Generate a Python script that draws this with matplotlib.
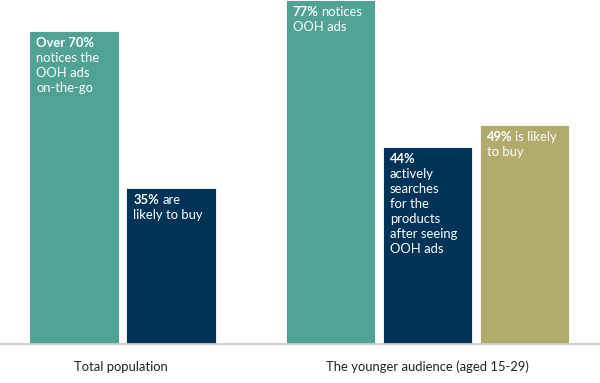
import matplotlib
matplotlib.use("Agg")
import matplotlib.pyplot as plt

plt.rcParams["font.family"] = ["Lato", "DejaVu Sans"]

# -----------------------------------------------------------------------------
# Data
# -----------------------------------------------------------------------------
groups = ["Total population", "The younger audience (aged 15-29)"]
bar_pos = [0.0, 1.0, 2.64, 3.64, 4.64]
values = [70, 35, 77, 44, 49]
bold_parts = ["Over 70%", "35%", "77%", "44%", "49%"]
first_rest = ["", "are", "notices", "", "is likely"]
more_lines = [
    ["notices the", "OOH ads", "on-the-go"],
    ["likely to buy"],
    ["OOH ads"],
    ["actively", "searches", "for the", "products", "after seeing", "OOH ads"],
    ["to buy"],
]
group_centers = [0.48, 3.64]

TEAL = "#50A294"
NAVY = "#003358"
OLIVE = "#B1AB6E"
colors = [TEAL, NAVY, TEAL, NAVY, OLIVE]

WIDTH = 0.92
FS = 9.4
LINE = 15  # pixels between text lines

fig = plt.figure(figsize=(6.0, 3.83), dpi=100)
ax = fig.add_axes([0, 0.102, 1, 0.898])

ax.bar(bar_pos, values, width=WIDTH, color=colors, edgecolor="white",
       linewidth=0.6, align="center", zorder=2)

for x, v, b, r, lines in zip(bar_pos, values, bold_parts, first_rest, more_lines):
    left = x - WIDTH / 2
    bt = ax.annotate(b, xy=(left, v), xytext=(7, -6), textcoords="offset pixels",
                     ha="left", va="top", color="white", fontsize=FS,
                     fontweight="bold", zorder=3)
    if r:
        ax.annotate(r, xy=(1, 0), xycoords=bt, xytext=(3, 0),
                    textcoords="offset pixels", ha="left", va="bottom",
                    color="white", fontsize=FS, zorder=3)
    for i, ln in enumerate(lines, start=1):
        ax.annotate(ln, xy=(left, v), xytext=(7, -6 - i * LINE),
                    textcoords="offset pixels", ha="left", va="top",
                    color="white", fontsize=FS, zorder=3)

ax.axhline(0, color="#cccccc", linewidth=1.3, zorder=4, clip_on=False)

ax.set_xlim(-0.763, 5.42)
ax.set_ylim(0, 77)
ax.set_xticks(group_centers)
ax.set_xticklabels(groups, fontsize=FS, color="#222222")
ax.tick_params(axis="x", length=0, pad=12)
ax.set_yticks([])
for s in ax.spines.values():
    s.set_visible(False)

fig.savefig("out.png", dpi=100)
